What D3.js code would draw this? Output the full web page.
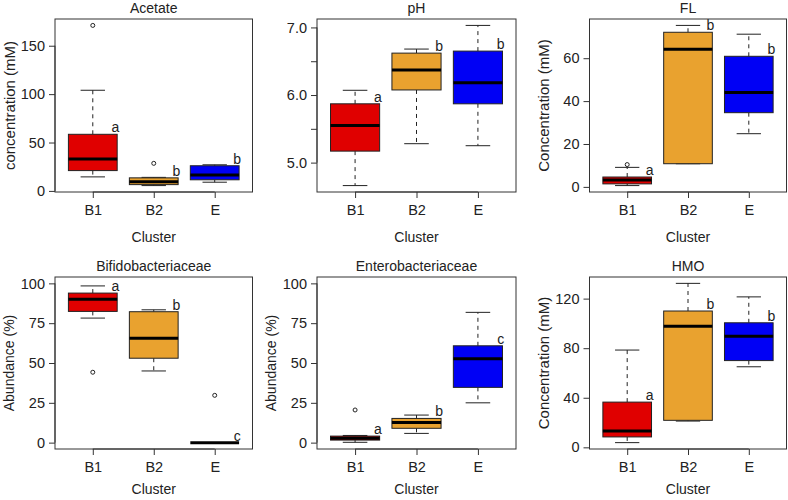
<!DOCTYPE html>
<html>
<head>
<meta charset="utf-8">
<script src="https://cdn.jsdelivr.net/npm/d3@7"></script>
<style>
  html, body { margin: 0; padding: 0; background: #fff; }
  svg { display: block; }
  text { font-family: "Liberation Sans", Arial, Helvetica, sans-serif; fill: #222; }
</style>
</head>
<body>
<svg id="chart" width="788" height="500"></svg>
<script>
// ---- data ----
const clusters = ["B1", "B2", "E"];
const clusterColors = ["#e00000", "#e9a22f", "#0000f5"];
const panelTitles = ["Acetate", "pH", "FL", "Bifidobacteriaceae", "Enterobacteriaceae", "HMO"];
const yAxisLabels = ["concentration (mM)", "", "Concentration (mM)", "Abundance (%)", "Abundance (%)", "Concentration (mM)"];
const xAxisLabel = "Cluster";

// box stats per cluster: [lower whisker, Q1, median, Q3, upper whisker]
const acetateStats = [[14.5, 21, 33, 58.5, 104], [5.5, 6.5, 9.5, 13.5, 14], [9, 11.5, 16.5, 26, 27]];
const acetateOutliers = [[171], [28.5], []];
const acetateLetters = ["a", "b", "b"];
const acetateTicks = [0, 50, 100, 150];

const phStats = [[4.66, 5.17, 5.55, 5.87, 6.07], [5.28, 6.075, 6.37, 6.62, 6.68], [5.25, 5.87, 6.18, 6.65, 7.03]];
const phOutliers = [[], [], []];
const phLetters = ["a", "b", "b"];
const phTicks = [5.0, 5.5, 6.0, 6.5, 7.0];
const phTickLabels = ["5.0", "", "6.0", "", "7.0"];

const flStats = [[0.6, 1.4, 3.2, 4.6, 9.1], [10.8, 10.8, 64.2, 72.1, 75.3], [24.8, 34.6, 44, 60.9, 71.2]];
const flOutliers = [[10.4], [], []];
const flLetters = ["a", "b", "b"];
const flTicks = [0, 20, 40, 60];

const bifidoStats = [[78.2, 82.4, 90.1, 93.9, 98.4], [45, 53, 65.5, 82.2, 83.4], [0, 0, 0, 0, 0]];
const bifidoOutliers = [[44.2], [], [29.7]];
const bifidoLetters = ["a", "b", "c"];
const abundanceTicks = [0, 25, 50, 75, 100];
const abundanceLimits = [0, 100];

const enteroStats = [[0.2, 1.6, 2.7, 4.1, 4.5], [5.8, 9, 12.7, 15.2, 17.3], [25, 34.7, 52.7, 60.8, 81.8]];
const enteroOutliers = [[20.5], [], []];
const enteroLetters = ["a", "b", "c"];

const hmoStats = [[3.8, 8.4, 13.2, 36.5, 78.5], [21.2, 21.8, 97.8, 110, 132.3], [65, 70, 89.7, 100.5, 121.4]];
const hmoOutliers = [[], [], []];
const hmoLetters = ["a", "b", "b"];
const hmoTicks = [0, 40, 80, 120];

// ---- layout ----
const colX = [[55, 252.5], [317, 516], [589.5, 786.5]];
const rowY = [[19, 192], [277, 449]];
const yLabelSizes = [15, 0, 15, 14, 14, 15];

const panels = [
  { stats: acetateStats, out: acetateOutliers, letters: acetateLetters, ticks: acetateTicks, tickLabels: null, lim: null },
  { stats: phStats, out: phOutliers, letters: phLetters, ticks: phTicks, tickLabels: phTickLabels, lim: null },
  { stats: flStats, out: flOutliers, letters: flLetters, ticks: flTicks, tickLabels: null, lim: null },
  { stats: bifidoStats, out: bifidoOutliers, letters: bifidoLetters, ticks: abundanceTicks, tickLabels: null, lim: abundanceLimits },
  { stats: enteroStats, out: enteroOutliers, letters: enteroLetters, ticks: abundanceTicks, tickLabels: null, lim: abundanceLimits },
  { stats: hmoStats, out: hmoOutliers, letters: hmoLetters, ticks: hmoTicks, tickLabels: null, lim: null },
];

const svg = d3.select("#chart");
const FONT = 14;
const TICKFONT = 14.5;

panels.forEach((p, i) => {
  const col = i % 3, row = Math.floor(i / 3);
  const [x0, x1] = colX[col];
  const [y0, y1] = rowY[row];
  const g = svg.append("g");

  // R-style scales: 4% padding
  const xs = d3.scaleLinear().domain([0.38, 3.62]).range([x0, x1]);
  let lo, hi;
  if (p.lim) { [lo, hi] = p.lim; }
  else {
    const all = p.stats.flat().concat(p.out.flat());
    lo = d3.min(all); hi = d3.max(all);
  }
  const pad = (hi - lo) * 0.04;
  const ys = d3.scaleLinear().domain([lo - pad, hi + pad]).range([y1, y0]);
  const unit = xs(2) - xs(1);

  // boxes
  p.stats.forEach((s, k) => {
    const cx = xs(k + 1);
    const [wl, q1, med, q3, wu] = s;
    g.append("line").attr("x1", cx).attr("x2", cx).attr("y1", ys(q3)).attr("y2", ys(wu))
      .attr("stroke", "#222").attr("stroke-width", 1).attr("stroke-dasharray", "4,4");
    g.append("line").attr("x1", cx).attr("x2", cx).attr("y1", ys(q1)).attr("y2", ys(wl))
      .attr("stroke", "#222").attr("stroke-width", 1).attr("stroke-dasharray", "4,4");
    [wl, wu].forEach(v => {
      g.append("line").attr("x1", cx - 0.2 * unit).attr("x2", cx + 0.2 * unit)
        .attr("y1", ys(v)).attr("y2", ys(v)).attr("stroke", "#222").attr("stroke-width", 1);
    });
    g.append("rect").attr("x", cx - 0.4 * unit).attr("width", 0.8 * unit)
      .attr("y", ys(q3)).attr("height", Math.max(0, ys(q1) - ys(q3)))
      .attr("fill", clusterColors[k]).attr("stroke", "#222").attr("stroke-width", 1);
    g.append("line").attr("x1", cx - 0.4 * unit).attr("x2", cx + 0.4 * unit)
      .attr("y1", ys(med)).attr("y2", ys(med)).attr("stroke", "#000").attr("stroke-width", 3);
    p.out[k].forEach(v => {
      g.append("circle").attr("cx", cx).attr("cy", ys(v)).attr("r", 2)
        .attr("fill", "none").attr("stroke", "#222").attr("stroke-width", 1);
    });
    g.append("text").attr("x", cx + 0.37 * unit).attr("y", ys(q3) - 2)
      .attr("text-anchor", "middle").attr("font-size", FONT).text(p.letters[k]);
  });

  // frame
  g.append("rect").attr("x", x0).attr("y", y0).attr("width", x1 - x0).attr("height", y1 - y0)
    .attr("fill", "none").attr("stroke", "#333").attr("stroke-width", 1);

  // y axis
  const yAxis = d3.axisLeft(ys).tickValues(p.ticks).tickSize(6).tickPadding(4)
    .tickFormat((d, j) => p.tickLabels ? p.tickLabels[j] : d3.format("")(d));
  const ya = g.append("g").attr("transform", `translate(${x0},0)`).call(yAxis);
  ya.select(".domain").attr("stroke", "#333").attr("d", `M-0,${ys(p.ticks[0])}V${ys(p.ticks[p.ticks.length - 1])}`);
  ya.selectAll(".tick line").attr("stroke", "#333");
  ya.selectAll(".tick text").attr("font-size", TICKFONT).attr("font-family", "Liberation Sans, Arial, sans-serif").attr("fill", "#222");

  // x axis
  const xAxis = d3.axisBottom(xs).tickValues([1, 2, 3]).tickSize(6).tickPadding(7)
    .tickFormat((d, j) => clusters[j]);
  const xa = g.append("g").attr("transform", `translate(0,${y1})`).call(xAxis);
  xa.select(".domain").attr("stroke", "#333").attr("d", `M${xs(1)},0H${xs(3)}`);
  xa.selectAll(".tick line").attr("stroke", "#333");
  xa.selectAll(".tick text").attr("font-size", TICKFONT).attr("font-family", "Liberation Sans, Arial, sans-serif").attr("fill", "#222");

  // title
  g.append("text").attr("x", (x0 + x1) / 2).attr("y", y0 - 11.5).attr("dominant-baseline", "central")
    .attr("text-anchor", "middle").attr("font-size", FONT).text(panelTitles[i]);
  // x label
  g.append("text").attr("x", (x0 + x1) / 2).attr("y", y1 + (row === 0 ? 44.5 : 39.5)).attr("dominant-baseline", "central")
    .attr("text-anchor", "middle").attr("font-size", FONT).text(xAxisLabel);
  // y label
  if (yAxisLabels[i]) {
    g.append("text").attr("transform", `translate(${x0 - 46},${(y0 + y1) / 2}) rotate(-90)`)
      .attr("dominant-baseline", "central").attr("text-anchor", "middle").attr("font-size", yLabelSizes[i])
      .text(yAxisLabels[i]);
  }
});
</script>
</body>
</html>
